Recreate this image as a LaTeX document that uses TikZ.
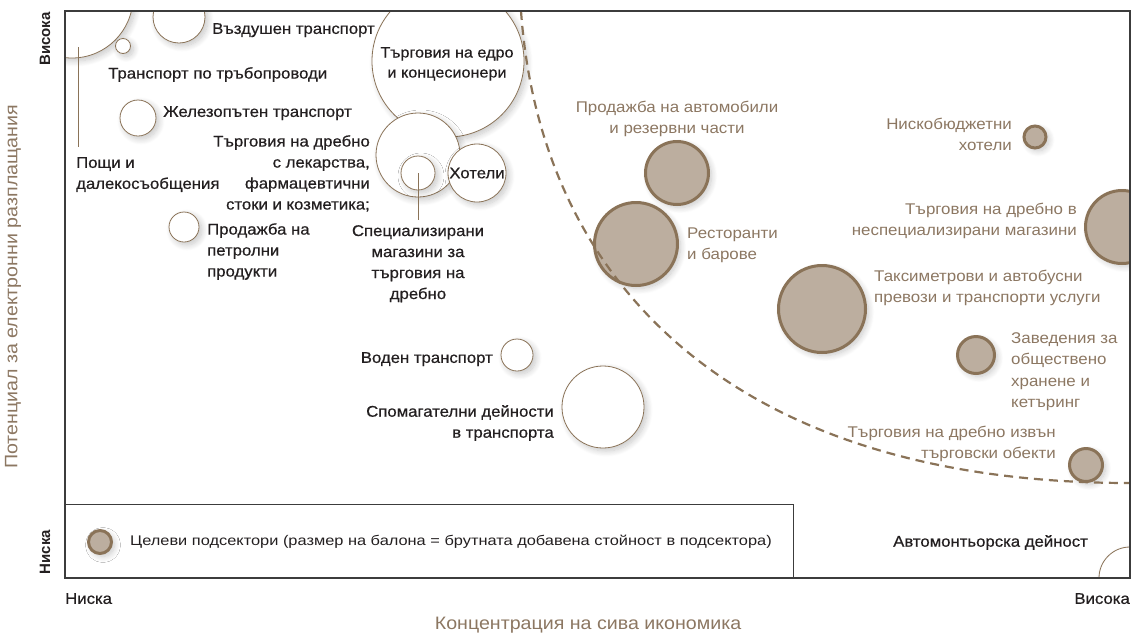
\documentclass[tikz,border=0pt]{standalone}
\usepackage{fontspec}
\setmainfont{Liberation Sans}
\newfontfamily\dkf{Liberation Sans}[FakeStretch=1.08,FakeBold=0.6]
\newfontfamily\brf{Liberation Sans}[FakeStretch=1.09]
\newfontfamily\lgf{Liberation Sans}[FakeStretch=1.17]
\usetikzlibrary{shadows.blur}
\definecolor{brn}{HTML}{8A7358}
\definecolor{bfill}{HTML}{BCAE9F}
\definecolor{btxt}{HTML}{8C7762}
\definecolor{dk}{HTML}{231F20}
\definecolor{frm}{HTML}{3C3C3C}
\begin{document}
\begin{tikzpicture}[x=1pt,y=-1pt,
  shd/.style={blur shadow={shadow xshift=3pt,shadow yshift=-3pt,shadow blur radius=6pt,shadow blur steps=10,shadow opacity=22}},
  wb/.style={circle,draw=brn,line width=0.8pt,fill=white,inner sep=0pt,minimum size=2*#1pt,shd},
  tb/.style={circle,draw=brn,line width=3pt,fill=bfill,inner sep=0pt,minimum size=2*#1pt-3pt,shd},
  dl/.style={inner sep=0pt,text=dk,font=\dkf\fontsize{15.5}{21}\selectfont},
  bl/.style={inner sep=0pt,text=btxt,font=\brf\fontsize{15.5}{21}\selectfont},
  conn/.style={draw=brn,line width=0.8pt},
]
\useasboundingbox (0,0) rectangle (1140,638);
\coordinate (fa) at (65,11);
\coordinate (fb) at (1130,578);
\begin{scope}
\clip (fa) rectangle (fb);
\node[wb=61] (c1) at (72,-3) {};
\node[wb=7.5] (c2) at (123,46) {};
\node[wb=26] (c3) at (179,17) {};
\node[wb=18] (c4) at (138,118) {};
\node[wb=76] (c5) at (448,61) {};
\node[wb=42] (c6) at (418,155) {};
\node[wb=29,dl] (c7) at (477,173) {Хотели};
\node[wb=17] (c8) at (418,173) {};
\node[wb=15] (c9) at (184,227) {};
\node[wb=16] (c10) at (517,355) {};
\node[wb=41] (c11) at (603,407) {};
\node[wb=31] (c12) at (1130,578) {};
\node[tb=33] (t1) at (677,173) {};
\node[tb=43] (t2) at (636,244) {};
\node[tb=12.5] (t3) at (1035,137) {};
\node[tb=38] (t4) at (1122,227) {};
\node[tb=45] (t5) at (822,309) {};
\node[tb=20] (t6) at (976,355) {};
\node[tb=18] (t7) at (1086,465) {};
\coordinate (d0) at (521,11);
\coordinate (d1) at (540,280);
\coordinate (d2) at (730,483);
\coordinate (d3) at (1130,483);
\draw[brn,line width=2.2pt,dash pattern=on 9pt off 6pt] (d0) .. controls (d1) and (d2) .. (d3);
\end{scope}
\draw[frm,line width=1.2pt] (fa) rectangle (fb);
\node[draw=frm,line width=1pt,fill=white,minimum width=728pt,minimum height=73pt,anchor=south west,inner sep=0pt] (leg) at (65,578) {};
\node[tb=13] (lgb) at (100,542) {};
\node[inner sep=0pt,text=dk,anchor=west,font=\lgf\fontsize{14}{16}\selectfont] (lgt) at (130,542) {Целеви подсектори (размер на балона = брутната добавена стойност в подсектора)};
% connectors
\coordinate (p1) at (78,47);
\coordinate (p2) at (78,147);
\draw[conn] (p1) -- (p2);
\coordinate (s2) at (418,220);
\draw[conn] (c8.center) -- (s2);
% dark labels
\node[dl,anchor=north west] (l3) at (212,23) {Въздушен транспорт};
\node[dl,anchor=north west] (l2) at (108,67) {Транспорт по тръбопроводи};
\node[dl,anchor=north west] (l4) at (163,106) {Железопътен транспорт};
\node[dl,anchor=north east,align=right] (l6) at (370,135) {Търговия на дребно\\с лекарства,\\фармацевтични\\стоки и козметика;};
\node[dl,anchor=north west,align=left] (l1) at (76,157) {Пощи и\\далекосъобщения};
\node[dl,anchor=north west,align=left] (l9) at (207,223) {Продажба на\\петролни\\продукти};
\node[dl,anchor=north,align=center] (l8) at (418,225) {Специализирани\\магазини за\\търговия на\\дребно};
\node[dl,anchor=north,align=center,font=\dkf\fontsize{15}{20}\selectfont] (l5) at (447,47) {Търговия на едро\\и концесионери};
\node[dl,anchor=north east] (l10) at (493,352) {Воден транспорт};
\node[dl,anchor=north east,align=right] (l11) at (554,405) {Спомагателни дейности\\в транспорта};
\node[dl,anchor=north east] (l12) at (1088,535) {Автомонтьорска дейност};
% brown labels
\node[bl,anchor=north,align=center] (m1) at (677,101) {Продажба на автомобили\\и резервни части};
\node[bl,anchor=north west,align=left] (m2) at (687,228) {Ресторанти\\и барове};
\node[bl,anchor=north east,align=right] (m3) at (1012,118) {Нискобюджетни\\хотели};
\node[bl,anchor=north east,align=right] (m4) at (1077,203) {Търговия на дребно в\\неспециализирани магазини};
\node[bl,anchor=north west,align=left] (m5) at (874,270) {Таксиметрови и автобусни\\превози и транспорти услуги};
\node[bl,anchor=north west,align=left,font=\brf\fontsize{15.5}{21.5}\selectfont] (m6) at (1011,332) {Заведения за\\обществено\\хранене и\\кетъринг};
\node[bl,anchor=north east,align=right] (m7) at (1056,426) {Търговия на дребно извън\\търговски обекти};
% axes
\node[dl,font=\bfseries\fontsize{15}{18}\selectfont,rotate=90] (yh) at (45,39) {Висока};
\node[dl,font=\bfseries\fontsize{15}{18}\selectfont,rotate=90] (yl) at (45,552) {Ниска};
\node[dl,anchor=north west] (xl) at (65,593) {Ниска};
\node[dl,anchor=north east] (xh) at (1130,593) {Висока};
\node[bl,font=\brf\fontsize{18}{20}\selectfont,rotate=90] (yt) at (13,287) {Потенциал за електронни разплащания};
\node[bl,font=\brf\fontsize{18}{20}\selectfont] (xt) at (588,625) {Концентрация на сива икономика};
\end{tikzpicture}
\end{document}
